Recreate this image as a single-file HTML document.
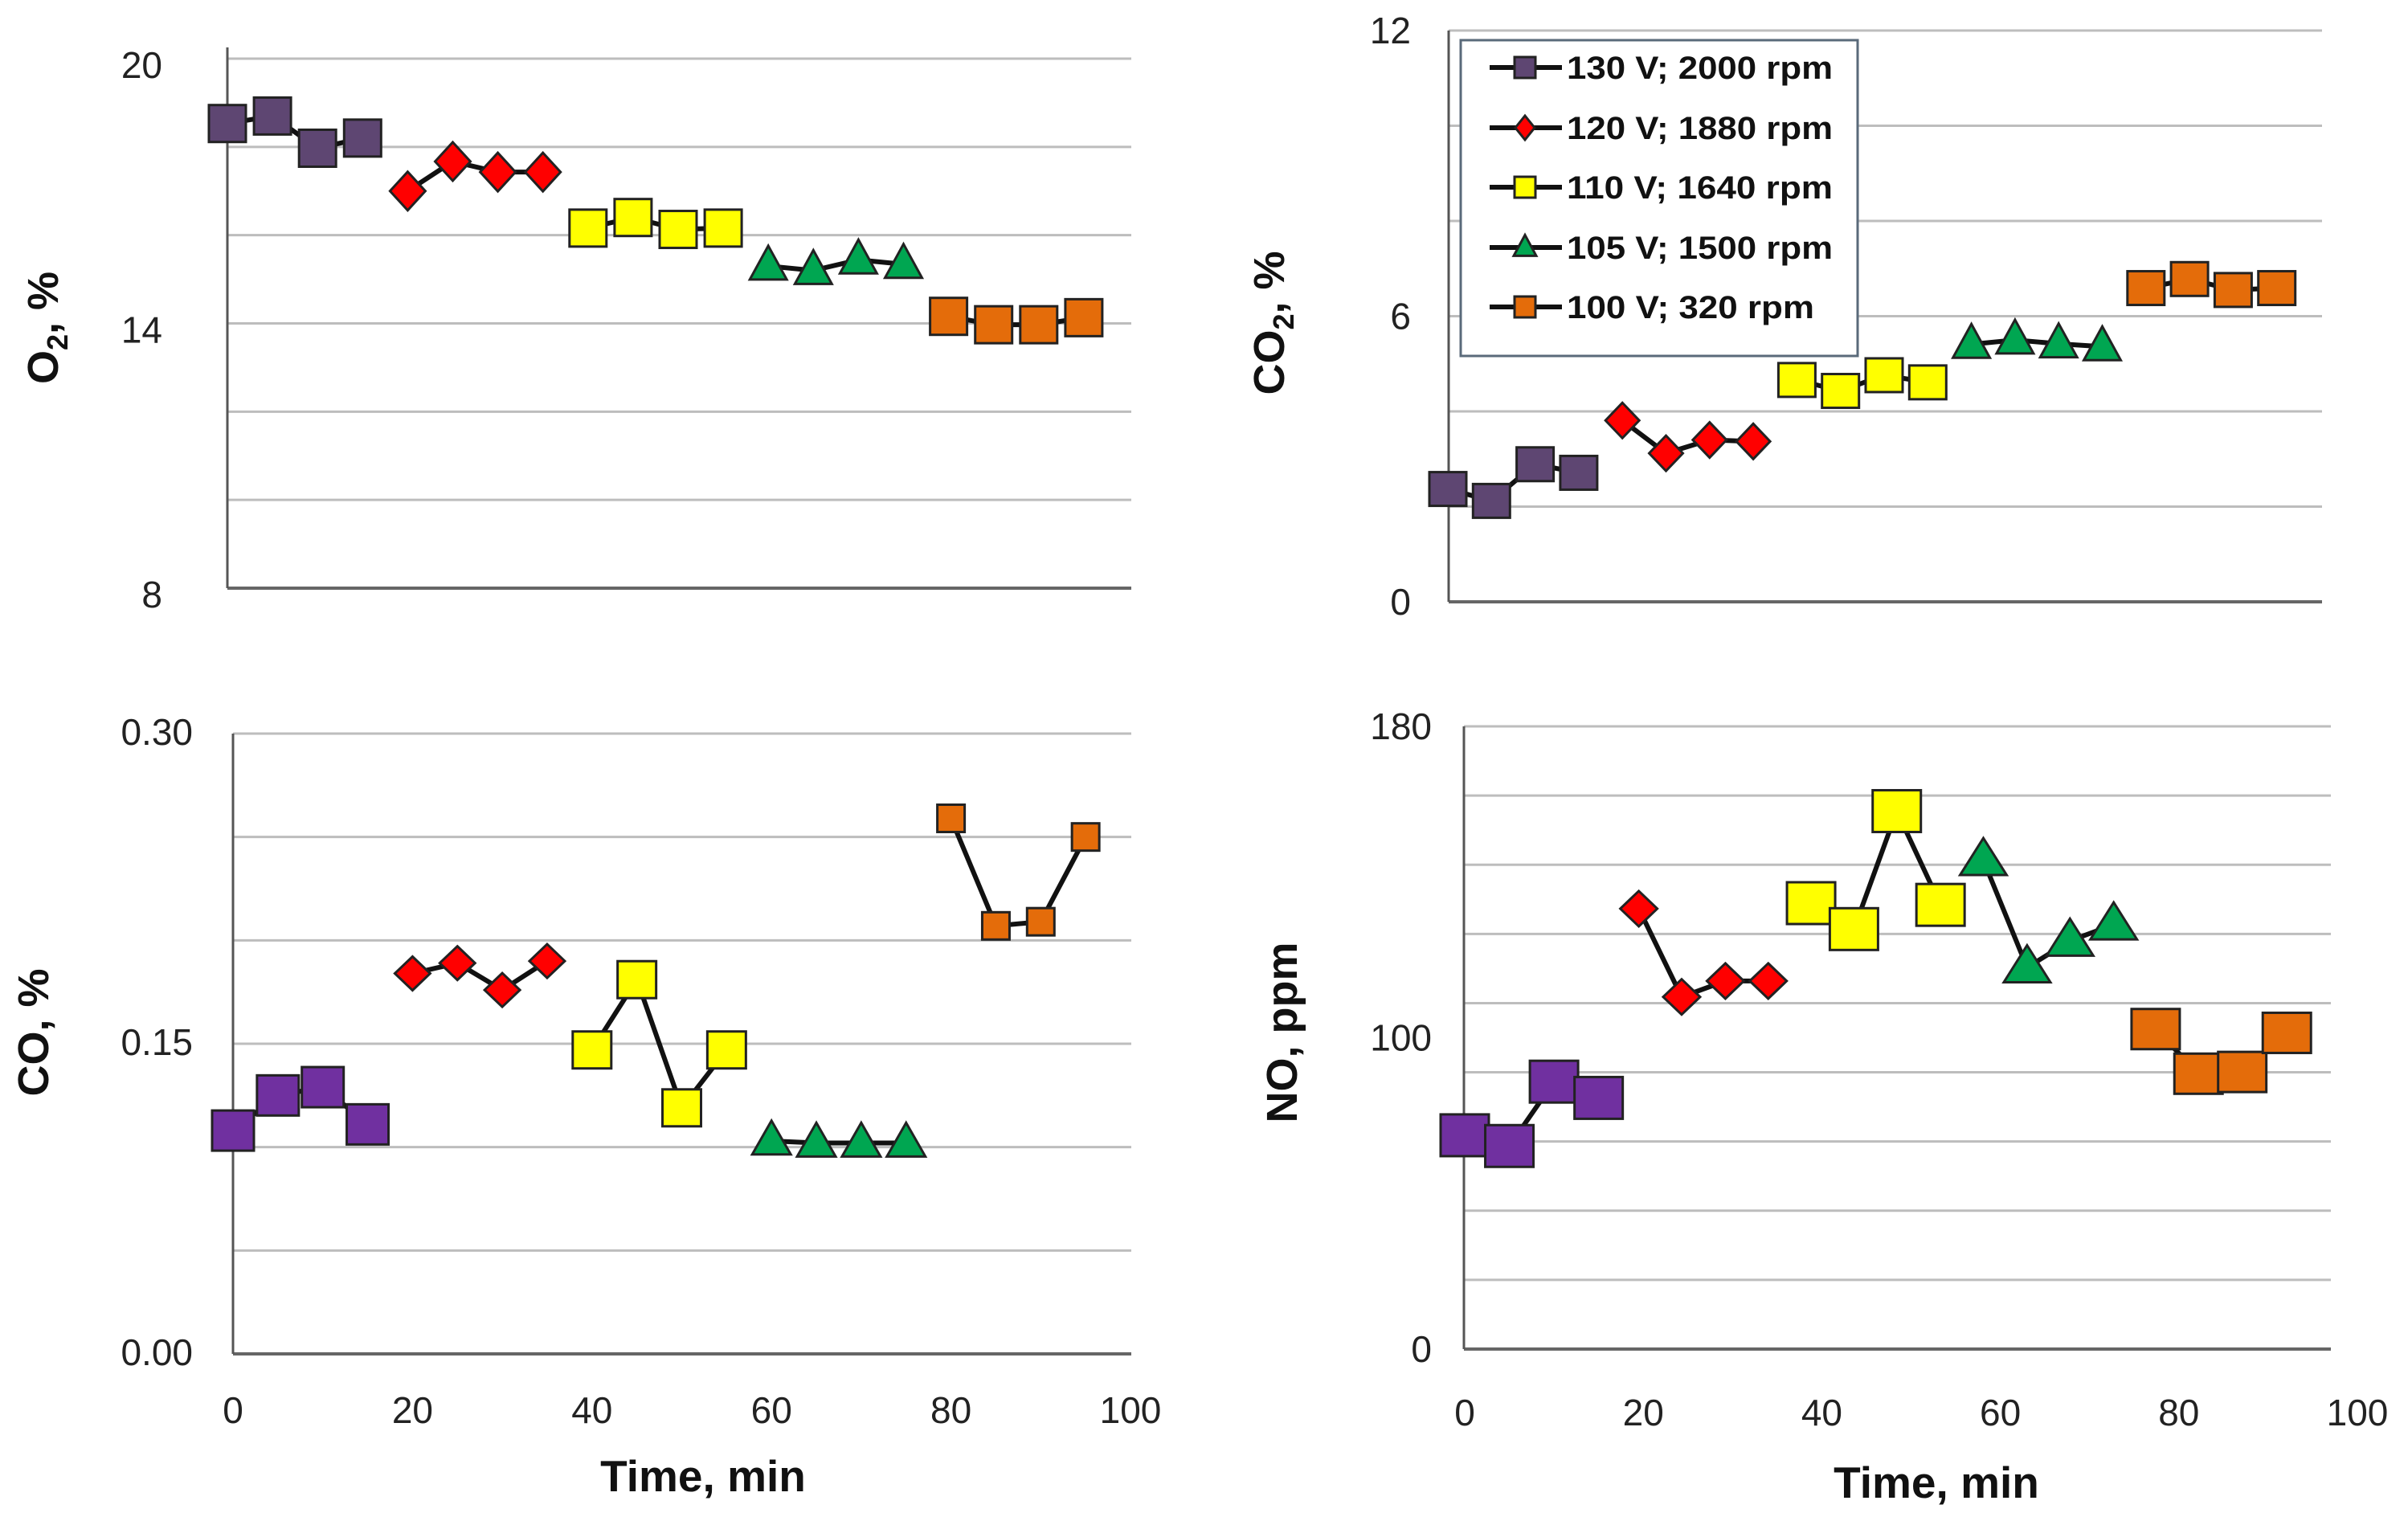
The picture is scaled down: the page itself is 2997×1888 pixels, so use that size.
<!DOCTYPE html>
<html><head><meta charset="utf-8"><style>
html,body{margin:0;padding:0;background:#fff;}
svg{display:block;font-family:"Liberation Sans",Arial,sans-serif;}
</style></head><body>
<svg id="chart" width="2997" height="1888" viewBox="0 0 2997 1888" xmlns="http://www.w3.org/2000/svg">
<rect x="0" y="0" width="2997" height="1888" fill="#fff"/>
<g id="layer"></g>
</svg>
<script>
// ---- data ----
const seriesNames = ["130 V; 2000 rpm","120 V; 1880 rpm","110 V; 1640 rpm","105 V; 1500 rpm","100 V; 320 rpm"];
const times = [0,5,10,15,20,25,30,35,40,45,50,55,60,65,70,75,80,85,90,95];
const noTimes = [0,5,10,15,19.5,24.3,29.2,34,38.8,43.6,48.4,53.3,58.1,63,67.8,72.7,77.4,82.2,87.1,92.1];
const o2Values = [18.53,18.70,17.97,18.2, 17.0,17.67,17.43,17.43, 16.16,16.4,16.13,16.16, 15.3,15.2,15.44,15.34, 14.16,13.97,13.97,14.13];
const co2Values = [2.37,2.12,2.89,2.71, 3.81,3.12,3.40,3.37, 4.66,4.43,4.76,4.61, 5.41,5.50,5.42,5.36, 6.59,6.78,6.55,6.59];
const coValues = [0.108,0.125,0.129,0.111, 0.184,0.189,0.176,0.190, 0.147,0.181,0.119,0.147, 0.103,0.102,0.102,0.102, 0.259,0.207,0.209,0.250];
const noValues = [61.8,58.7,77.3,72.6, 127.3,101.8,106.4,106.4, 128.9,121.4,155.5,128.4, 141.3,110.3,118,122.7, 92.5,79.6,80.1,91.4];
const o2Ticks = ["20","14","8"];
const co2Ticks = ["12","6","0"];
const coTicks = ["0.30","0.15","0.00"];
const noTicks = ["180","100","0"];
const xTicks = ["0","20","40","60","80","100"];

const NS="http://www.w3.org/2000/svg";
const layer=document.getElementById('layer');
function mk(tag,attrs,parent){const e=document.createElementNS(NS,tag);for(const k in attrs)e.setAttribute(k,attrs[k]);(parent||layer).appendChild(e);return e;}

const kinds=["square","diamond","square","triangle","square"];
const fillsTop=["#5e4672","#ff0000","#ffff00","#00a651","#e46c0a"];
const fillsBot=["#7030a0","#ff0000","#ffff00","#00a651","#e46c0a"];

function marker(g,kind,cx,cy,w,h,fill){
  let e;
  if(kind==="square"){e=mk('rect',{x:cx-w/2,y:cy-h/2,width:w,height:h,fill:fill,stroke:"#222","stroke-width":3},g);}
  else if(kind==="diamond"){e=mk('polygon',{points:`${cx},${cy-h/2} ${cx+w/2},${cy} ${cx},${cy+h/2} ${cx-w/2},${cy}`,fill:fill,stroke:"#222","stroke-width":3},g);}
  else {e=mk('polygon',{points:`${cx},${cy-h*0.6} ${cx+w/2},${cy+h*0.4} ${cx-w/2},${cy+h*0.4}`,fill:fill,stroke:"#222","stroke-width":3},g);}
  return e;
}

function panel(cfg){
  const g=mk('g',{});
  
  
  const xs=t=>cfg.x0+(t/100)*(cfg.x100-cfg.x0);
  const ys=v=>cfg.yb+(v-cfg.ymin)/(cfg.ymax-cfg.ymin)*(cfg.yt-cfg.yb);
  for(let v=cfg.ymin; v<=cfg.ymax+1e-9; v+=cfg.step){
    const y=ys(v);
    const gl=mk('line',{x1:cfg.axisX,x2:cfg.gridEnd,y1:y,y2:y,stroke:(v===cfg.ymin?"#666":"#bdbdbd"),"stroke-width":(v===cfg.ymin?4:3)},g);
    
    
  }
  const ax=mk('line',{x1:cfg.axisX,x2:cfg.axisX,y1:cfg.yt-(cfg.axisTopExtra||0),y2:cfg.yb,stroke:"#555","stroke-width":3},g);
  
  
  const tickVals=[cfg.ymax,(cfg.ymax+cfg.ymin)/2,cfg.ymin];
  cfg.ticks.forEach((lab,i)=>{
    const t=mk('text',{x:cfg.tickX,y:ys(tickVals[i])+cfg.tickDy,"text-anchor":"end","font-size":46,fill:"#222"},g);
    t.textContent=lab;
    
    
  });
  const tt=mk('text',{x:0,y:0,transform:`translate(${cfg.titleX},${cfg.titleY}) rotate(-90)`,"text-anchor":"middle","font-size":54,"font-weight":"bold",fill:"#111"},g);
  tt.innerHTML=cfg.titleHTML;
  
  
  if(cfg.xLabels){
    xTicks.forEach(lab=>{
      const t=mk('text',{x:xs(+lab),y:cfg.xTickY,"text-anchor":"middle","font-size":46,fill:"#222"},g);
      t.textContent=lab;
      
      
    });
    const xt=mk('text',{x:cfg.xTitleX,y:cfg.xTitleY,"text-anchor":"middle","font-size":55,"font-weight":"bold",fill:"#111"},g);
    xt.textContent="Time, min";
    
    
  }
  const fills=cfg.fills;
  for(let s=0;s<5;s++){
    const sg=mk('g',{},g);
    
    
    const pts=[];
    for(let k=0;k<4;k++){const i=s*4+k;pts.push([xs(cfg.t[i]),ys(cfg.v[i])]);}
    const pl=mk('polyline',{points:pts.map(p=>p.join(',')).join(' '),fill:"none",stroke:"#111","stroke-width":6},sg);
    
    
    const sz=cfg.sizes[s];
    pts.forEach(p=>{
      const m=marker(sg,kinds[s],p[0],p[1],sz[0],sz[1],fills[s]);
      
      
    });
  }
}

panel({name:'o2-panel',x0:283,x100:1405,axisX:283,gridEnd:1408,yb:732,yt:73,ymin:8,ymax:20,step:2,
  ticks:o2Ticks,tickX:202,tickDy:24,titleX:72,titleY:408,titleHTML:'O<tspan font-size="36" dy="12">2</tspan><tspan dy="-12">, %</tspan>',
  t:times,v:o2Values,fills:fillsTop,sizes:[[46,46],[44,48],[46,46],[46,42],[46,46]],axisTopExtra:14});
panel({name:'co2-panel',x0:1802,x100:2888,axisX:1803,gridEnd:2890,yb:749,yt:38,ymin:0,ymax:12,step:2,
  ticks:co2Ticks,tickX:1756,tickDy:16,titleX:1598,titleY:402,titleHTML:'CO<tspan font-size="36" dy="12">2</tspan><tspan dy="-12">, %</tspan>',
  t:times,v:co2Values,fills:fillsTop,sizes:[[46,42],[42,44],[46,42],[46,42],[46,42]]});
panel({name:'co-panel',x0:290,x100:1407,axisX:290,gridEnd:1408,yb:1685,yt:913,ymin:0,ymax:0.30,step:0.05,
  ticks:coTicks,tickX:240,tickDy:14,titleX:60,titleY:1285,titleHTML:'CO, %',
  t:times,v:coValues,fills:fillsBot,sizes:[[52,50],[44,42],[48,46],[48,42],[34,34]],
  xLabels:true,xTickY:1771,xTitleX:875,xTitleY:1856});
panel({name:'no-panel',x0:1823,x100:2934,axisX:1822,gridEnd:2901,yb:1679,yt:904,ymin:0,ymax:180,step:20,
  ticks:noTicks,tickX:1782,tickDy:16,titleX:1614,titleY:1285,titleHTML:'NO, ppm',
  t:noTimes,v:noValues,fills:fillsBot,sizes:[[60,52],[46,44],[60,52],[58,46],[60,50]],
  xLabels:true,xTickY:1774,xTitleX:2410,xTitleY:1864});

const lg=mk('g',{});


mk('rect',{x:1818,y:50,width:494,height:393,fill:"#fff",stroke:"#5a6a7a","stroke-width":3},lg);
const legY=[84,159,233,308,382];
seriesNames.forEach((n,i)=>{
  const eg=mk('g',{},lg);
  
  
  mk('line',{x1:1854,x2:1944,y1:legY[i],y2:legY[i],stroke:"#111","stroke-width":6},eg);
  const sz=kinds[i]==="square"?[26,26]:(kinds[i]==="diamond"?[24,30]:[28,26]);
  marker(eg,kinds[i],1898,legY[i],sz[0],sz[1],fillsTop[i]);
  const t=mk('text',{x:1950,y:legY[i]+14,"font-size":40,"font-weight":"bold",fill:"#111",textLength:(i===4?308:331),lengthAdjust:"spacingAndGlyphs"},eg);
  t.textContent=n;
});
</script>
</body></html>
